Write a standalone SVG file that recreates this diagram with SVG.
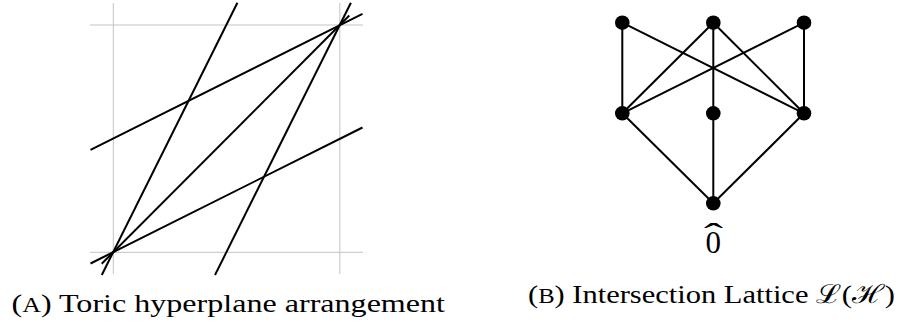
<svg xmlns="http://www.w3.org/2000/svg" width="903" height="331" viewBox="0 0 903 331">
<style>
.grid{stroke:#c4c4c4;stroke-width:1;fill:none}
.ln{stroke:#000;stroke-width:2;fill:none;stroke-linecap:butt}
.edge{stroke:#000;stroke-width:2;fill:none}
.node{fill:#000}
</style>
<rect width="903" height="331" fill="#fff"/>
<g id="panel-a">
  <g id="grid">
    <line class="grid" x1="113.3" y1="3" x2="113.3" y2="274"/>
    <line class="grid" x1="339.8" y1="3" x2="339.8" y2="274"/>
    <line class="grid" x1="90" y1="25" x2="363" y2="25"/>
    <line class="grid" x1="90" y1="252.3" x2="363" y2="252.3"/>
  </g>
  <g id="hyperplanes">
    <line class="ln" x1="90.5" y1="149.8" x2="362.5" y2="13.8"/>
    <line class="ln" x1="90.5" y1="263.5" x2="362.5" y2="127.5"/>
    <line class="ln" x1="101.7" y1="263.8" x2="349.3" y2="15.5"/>
    <line class="ln" x1="101.8" y1="275" x2="237.4" y2="2.7"/>
    <line class="ln" x1="215" y1="275" x2="350.9" y2="2.7"/>
  </g>
</g>
<g id="connectors">
  <line class="edge" x1="622.3" y1="22.7" x2="622.3" y2="113.3"/>
  <line class="edge" x1="622.3" y1="22.7" x2="804" y2="113.3"/>
  <line class="edge" x1="713.3" y1="22.7" x2="622.3" y2="113.3"/>
  <line class="edge" x1="713.3" y1="22.7" x2="713.3" y2="113.3"/>
  <line class="edge" x1="713.3" y1="22.7" x2="804" y2="113.3"/>
  <line class="edge" x1="804" y1="22.7" x2="622.3" y2="113.3"/>
  <line class="edge" x1="804" y1="22.7" x2="804" y2="113.3"/>
  <line class="edge" x1="622.3" y1="113.3" x2="713.3" y2="203.3"/>
  <line class="edge" x1="713.3" y1="113.3" x2="713.3" y2="203.3"/>
  <line class="edge" x1="804" y1="113.3" x2="713.3" y2="203.3"/>
</g>
<g id="n-top-left"><circle class="node" cx="622.3" cy="22.7" r="7.3"/></g>
<g id="n-top-mid"><circle class="node" cx="713.3" cy="22.7" r="7.3"/></g>
<g id="n-top-right"><circle class="node" cx="804" cy="22.7" r="7.3"/></g>
<g id="n-mid-left"><circle class="node" cx="622.3" cy="113.3" r="7.3"/></g>
<g id="n-mid-mid"><circle class="node" cx="713.3" cy="113.3" r="7.3"/></g>
<g id="n-mid-right"><circle class="node" cx="804" cy="113.3" r="7.3"/></g>
<g id="n-bottom">
  <circle class="node" cx="713.3" cy="203.3" r="7.3"/>
  <text font-family="Liberation Serif" font-size="31" fill="#000"><tspan x="705.6" y="253">0</tspan><tspan x="704" y="244.5" textLength="19" lengthAdjust="spacingAndGlyphs">ˆ</tspan></text>
</g>
<text font-family="Liberation Serif" font-size="26" fill="#000" x="11.5" y="311.5" textLength="433.5" lengthAdjust="spacingAndGlyphs">(<tspan font-size="21">A</tspan>) Toric hyperplane arrangement</text>
<text font-family="Liberation Serif" font-size="26" fill="#000" x="528" y="302.5" textLength="367" lengthAdjust="spacingAndGlyphs">(<tspan font-size="21">B</tspan>) Intersection Lattice <tspan font-family="DejaVu Serif">ℒ</tspan>(<tspan font-family="DejaVu Serif">ℋ</tspan>)</text>
</svg>
